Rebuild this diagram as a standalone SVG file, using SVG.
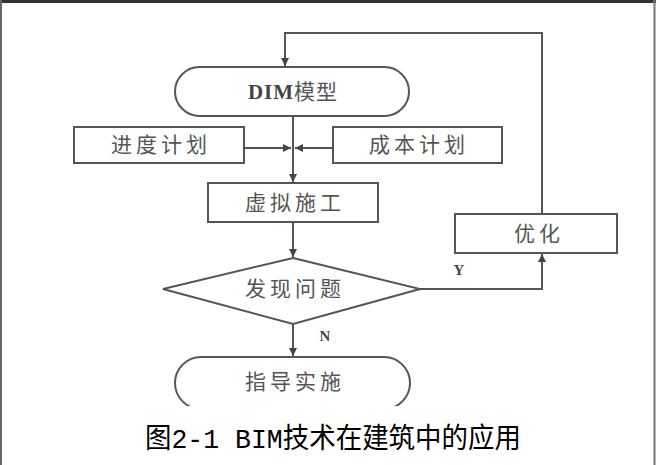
<svg xmlns="http://www.w3.org/2000/svg" width="656" height="465" viewBox="0 0 656 465">
<style>
.box{fill:#fff;stroke:#555;stroke-width:2}
.ln{fill:none;stroke:#555;stroke-width:2}
.lbl{font-family:"Liberation Serif","Noto Sans CJK SC",serif;font-size:21px;fill:#555;text-anchor:middle;letter-spacing:4px}
.yn{font-family:"Liberation Serif",serif;font-size:15px;font-weight:bold;fill:#444;text-anchor:middle}
.cap{font-family:"Liberation Mono","Noto Sans CJK SC",monospace;font-size:28px;fill:#000;text-anchor:middle}
</style>
<defs>
<marker id="ah" viewBox="0 0 10 10" refX="10" refY="5" markerWidth="4" markerHeight="4" orient="auto" markerUnits="strokeWidth">
<path d="M0,0 L10,5 L0,10 z" fill="#444"/>
</marker>
<clipPath id="cut"><rect x="0" y="0" width="656" height="406"/></clipPath>
</defs>
<rect x="0" y="0" width="656" height="465" fill="#fff"/>
<g id="frame">
<line x1="0" y1="1.5" x2="656" y2="1.5" stroke="#333" stroke-width="3"/>
<line x1="1" y1="0" x2="1" y2="465" stroke="#666" stroke-width="2"/>
<line x1="654.5" y1="0" x2="654.5" y2="465" stroke="#777" stroke-width="2"/>
</g>
<g id="connectors">
<polyline class="ln" points="542,214 542,33 285,33 285,66" marker-end="url(#ah)"/>
<line class="ln" x1="293" y1="116" x2="293" y2="182" marker-end="url(#ah)"/>
<line class="ln" x1="245" y1="148" x2="291" y2="148" marker-end="url(#ah)"/>
<line class="ln" x1="333" y1="148" x2="295" y2="148" marker-end="url(#ah)"/>
<line class="ln" x1="293" y1="222" x2="293" y2="257" marker-end="url(#ah)"/>
<line class="ln" x1="293" y1="324" x2="293" y2="356" marker-end="url(#ah)"/>
<polyline class="ln" points="420,289 542,289 542,254" marker-end="url(#ah)"/>
<text class="yn" x="459" y="275">Y</text>
<text class="yn" x="325" y="341">N</text>
</g>
<g id="bim">
<rect class="box" x="175" y="67" width="234" height="49" rx="24.5" ry="24.5"/>
<text class="lbl" x="293" y="99" style="letter-spacing:1px"><tspan font-weight="bold" fill="#444">DIM</tspan>模型</text>
</g>
<g id="schedule">
<rect class="box" x="74" y="127" width="170" height="36"/>
<text class="lbl" x="161" y="152">进度计划</text>
</g>
<g id="cost">
<rect class="box" x="333" y="127" width="169" height="36"/>
<text class="lbl" x="419" y="152">成本计划</text>
</g>
<g id="virtual">
<rect class="box" x="208" y="183" width="170" height="39"/>
<text class="lbl" x="295" y="210">虚拟施工</text>
</g>
<g id="optimize">
<rect class="box" x="455" y="214" width="162" height="39"/>
<text class="lbl" x="539" y="241">优化</text>
</g>
<g id="decision">
<polygon class="box" points="293,258 420,289 293,324 163,289"/>
<text class="lbl" x="295" y="296">发现问题</text>
</g>
<g id="guide" clip-path="url(#cut)">
<rect class="box" x="175" y="357" width="235" height="52" rx="26" ry="26"/>
<text class="lbl" x="295" y="389">指导实施</text>
</g>
<g id="caption">
<text class="cap" x="333" y="448" textLength="376" lengthAdjust="spacingAndGlyphs">图2-1 BIM技术在建筑中的应用</text>
</g>
</svg>
